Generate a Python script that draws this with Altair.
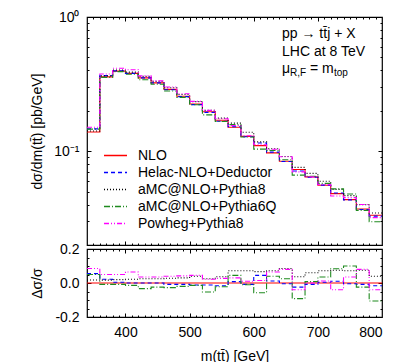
import altair as alt
import pandas as pd

# ---------------- data ----------------
bin_edges = [340, 360, 380, 400, 420, 440, 460, 480, 500, 520, 540, 560,
             580, 600, 620, 640, 660, 680, 700, 720, 740, 760, 780, 800]

series_names = ["NLO", "Helac-NLO+Deductor", "aMC@NLO+Pythia8",
                "aMC@NLO+Pythia6Q", "Powheg+Pythia8"]

nlo = [0.139, 0.358, 0.395, 0.380, 0.352, 0.323, 0.289, 0.257, 0.225, 0.197,
       0.170, 0.151, 0.129, 0.110, 0.0972, 0.0842, 0.0730, 0.0644, 0.0557,
       0.0483, 0.0436, 0.0371, 0.0333]
helac = [0.1466, 0.3659, 0.3966, 0.380, 0.352, 0.323, 0.2867, 0.2549, 0.2223,
         0.1946, 0.1673, 0.1522, 0.1280, 0.1150, 0.0984, 0.0839, 0.0712,
         0.0639, 0.0559, 0.0488, 0.0434, 0.0368, 0.0328]
amc_p8 = [0.1415, 0.3641, 0.4029, 0.3884, 0.3608, 0.3311, 0.2971, 0.2647,
          0.2340, 0.2019, 0.1763, 0.1619, 0.1383, 0.1174, 0.1042, 0.0914,
          0.0757, 0.0683, 0.0597, 0.0519, 0.0467, 0.0399, 0.0346]
amc_p6q = [0.1460, 0.3551, 0.3918, 0.3747, 0.3404, 0.3152, 0.2812, 0.2519,
           0.2219, 0.1866, 0.1663, 0.1578, 0.1277, 0.1037, 0.1011, 0.0863,
           0.0663, 0.0649, 0.0576, 0.0524, 0.0480, 0.0362, 0.0298]
powheg = [0.1508, 0.3759, 0.4148, 0.4047, 0.3643, 0.3343, 0.3006, 0.2678,
          0.2351, 0.2013, 0.1746, 0.1555, 0.1303, 0.1117, 0.1035, 0.0909,
          0.0701, 0.0644, 0.0564, 0.0464, 0.0451, 0.0401, 0.0320]

r_nlo = [0.0, 0.0, 0.0, 0.0, 0.0, 0.0, 0.0, 0.0, 0.0, 0.0, 0.0, 0.0,
         0.0, 0.0, 0.0, 0.0, 0.0, 0.0, 0.0, 0.0, 0.0, 0.0, 0.0]
r_helac = [0.055, 0.022, 0.004, 0.0, 0.0, 0.0, -0.008, -0.008, -0.012, -0.012,
           -0.016, 0.008, -0.008, 0.045, 0.012, -0.004, -0.024, -0.008, 0.004,
           0.010, -0.004, -0.008, -0.016]
r_amc_p8 = [0.018, 0.017, 0.020, 0.022, 0.025, 0.025, 0.028, 0.030, 0.040,
            0.025, 0.037, 0.072, 0.072, 0.067, 0.072, 0.085, 0.037, 0.060,
            0.072, 0.075, 0.072, 0.075, 0.040]
r_amc_p6q = [0.050, -0.008, -0.008, -0.014, -0.033, -0.024, -0.027, -0.020,
             -0.014, -0.053, -0.022, 0.045, -0.010, -0.057, 0.040, 0.025,
             -0.092, 0.008, 0.035, 0.084, 0.100, -0.024, -0.106]
r_powheg = [0.085, 0.050, 0.050, 0.065, 0.035, 0.035, 0.040, 0.042, 0.045,
            0.022, 0.027, 0.030, 0.010, 0.015, 0.065, 0.080, -0.040, 0.000,
            0.012, -0.040, 0.035, 0.080, -0.040]

top_values = [nlo, helac, amc_p8, amc_p6q, powheg]
ratio_values = [r_nlo, r_helac, r_amc_p8, r_amc_p6q, r_powheg]

colors = ["#ff0000", "#0000ff", "#000000", "#1f8a1f", "#ff00ff"]
dashes = [[1, 0], [4, 3], [1, 2], [6, 2, 1, 2], [5, 2, 1, 2, 1, 2]]

ann_lines = ["pp \u2192 tt\u0304j + X", "LHC at 8 TeV"]
ann_mu = ["\u03bc", "R,F", "= m", "top"]

FONT = "Liberation Sans"


def long_table(values_list):
    rows = []
    for k, name in enumerate(series_names):
        vals = values_list[k]
        for i, v in enumerate(vals):
            rows.append({"series": name, "order": k, "x": bin_edges[i], "y": v})
        rows.append({"series": name, "order": k, "x": bin_edges[-1], "y": vals[-1]})
    return pd.DataFrame(rows)


top_df = long_table(top_values)
rat_df = long_table(ratio_values)

xscale = alt.Scale(domain=[340, 800], nice=False, zero=False)
ytop_scale = alt.Scale(type="log", domain=[0.02, 1], nice=False)
yrat_scale = alt.Scale(domain=[-0.2, 0.2], nice=False, zero=False)
color_scale = alt.Scale(domain=series_names, range=colors)
dash_scale = alt.Scale(domain=series_names, range=dashes)

x_minor = [v for v in range(350, 800, 10)]
x_major = [400, 500, 600, 700]
ytop_minor = [0.02, 0.03, 0.04, 0.05, 0.06, 0.07, 0.08, 0.09,
              0.2, 0.3, 0.4, 0.5, 0.6, 0.7, 0.8, 0.9]
ytop_major = [0.1]
yrat_minor = [-0.15, -0.1, -0.05, 0.05, 0.1, 0.15]
yrat_major = [0.0]


def tick_axis(orient, vals, size):
    return alt.Axis(orient=orient, offset=-size, tickSize=size, values=vals,
                    labels=False, domain=False, title=None, grid=False,
                    ticks=True, tickColor="black", tickWidth=1)


def tick_layers(df, yscale, xmin, xmaj, ymin, ymaj):
    layers = []
    for xo, yo in [("bottom", "left"), ("top", "right")]:
        for xv, yv, s in [(xmin, ymin, 2), (xmaj, ymaj, 4)]:
            layers.append(
                alt.Chart(df).mark_point(opacity=0).encode(
                    x=alt.X("x:Q", scale=xscale, axis=tick_axis(xo, xv, s)),
                    y=alt.Y("y:Q", scale=yscale, axis=tick_axis(yo, yv, s)),
                )
            )
    return layers


legend = alt.Legend(title=None, orient="none", legendX=16, legendY=131,
                    symbolType="stroke", symbolSize=529, symbolStrokeWidth=1.5,
                    labelFontSize=14, labelFont=FONT, labelOffset=10,
                    clipHeight=15, rowPadding=2, labelLimit=300, labelColor="black")

top_lines = alt.Chart(top_df).mark_line(interpolate="step-after", strokeWidth=1.1).encode(
    x=alt.X("x:Q", scale=xscale,
            axis=alt.Axis(labels=False, ticks=False, domain=False, title=None, grid=False)),
    y=alt.Y("y:Q", scale=ytop_scale,
            axis=alt.Axis(values=[0.1, 1],
                          labelExpr="datum.value >= 1 ? '10\u2070' : '10\u207b\u00b9'",
                          ticks=False, domain=False, grid=False, labelPadding=8,
                          title="d\u03c3/dm(tt\u0304) [pb/GeV]", titleX=-43)),
    color=alt.Color("series:N", scale=color_scale, sort=series_names, legend=legend),
    strokeDash=alt.StrokeDash("series:N", scale=dash_scale, sort=series_names),
    order=alt.Order("order:Q"),
)

one = alt.Data(values=[{}])
ann_layers = [
    alt.Chart(one).mark_text(align="left", baseline="middle", fontSize=14, font=FONT).encode(
        x=alt.value(195), y=alt.value(17), text=alt.value(ann_lines[0])),
    alt.Chart(one).mark_text(align="left", baseline="middle", fontSize=14, font=FONT).encode(
        x=alt.value(195), y=alt.value(35), text=alt.value(ann_lines[1])),
    alt.Chart(one).mark_text(align="left", baseline="middle", fontSize=14, font=FONT).encode(
        x=alt.value(195), y=alt.value(52), text=alt.value(ann_mu[0])),
    alt.Chart(one).mark_text(align="left", baseline="middle", fontSize=10, font=FONT).encode(
        x=alt.value(203), y=alt.value(56), text=alt.value(ann_mu[1])),
    alt.Chart(one).mark_text(align="left", baseline="middle", fontSize=14, font=FONT).encode(
        x=alt.value(223), y=alt.value(52), text=alt.value(ann_mu[2])),
    alt.Chart(one).mark_text(align="left", baseline="middle", fontSize=10, font=FONT).encode(
        x=alt.value(247), y=alt.value(56), text=alt.value(ann_mu[3])),
]

top = alt.layer(
    top_lines, *tick_layers(top_df, ytop_scale, x_minor, x_major, ytop_minor, ytop_major),
    *ann_layers
).resolve_axis(x="independent", y="independent").properties(width=295, height=228)

rat_lines = alt.Chart(rat_df).mark_line(interpolate="step-after", strokeWidth=1.1).encode(
    x=alt.X("x:Q", scale=xscale,
            axis=alt.Axis(values=[400, 500, 600, 700, 800], format="d", ticks=False,
                          domain=False, grid=False, labelPadding=8,
                          title="m(tt\u0304) [GeV]", titlePadding=10)),
    y=alt.Y("y:Q", scale=yrat_scale,
            axis=alt.Axis(values=[-0.2, 0.0, 0.2],
                          labelExpr="datum.value > 0.1 ? '0.2' : (datum.value < -0.1 ? '-0.2' : '0.0')",
                          ticks=False, domain=False, grid=False, labelPadding=8,
                          title="\u0394\u03c3/\u03c3", titleX=-43)),
    color=alt.Color("series:N", scale=color_scale, sort=series_names, legend=None),
    strokeDash=alt.StrokeDash("series:N", scale=dash_scale, sort=series_names, legend=None),
    order=alt.Order("order:Q"),
)

bottom = alt.layer(
    rat_lines, *tick_layers(rat_df, yrat_scale, x_minor, x_major, yrat_minor, yrat_major)
).resolve_axis(x="independent", y="independent").properties(width=295, height=68)

chart = alt.vconcat(top, bottom, spacing=4, bounds="flush").properties(
    padding={"left": 21, "top": 1, "right": 4, "bottom": 0}
).configure_view(stroke="black", strokeWidth=1.2).configure_axis(
    labelFont=FONT, titleFont=FONT, labelFontSize=14, titleFontSize=14,
    labelColor="black", titleColor="black", titleFontWeight="normal"
)

chart.save("out.html", embed_options={"renderer": "svg", "actions": False})
